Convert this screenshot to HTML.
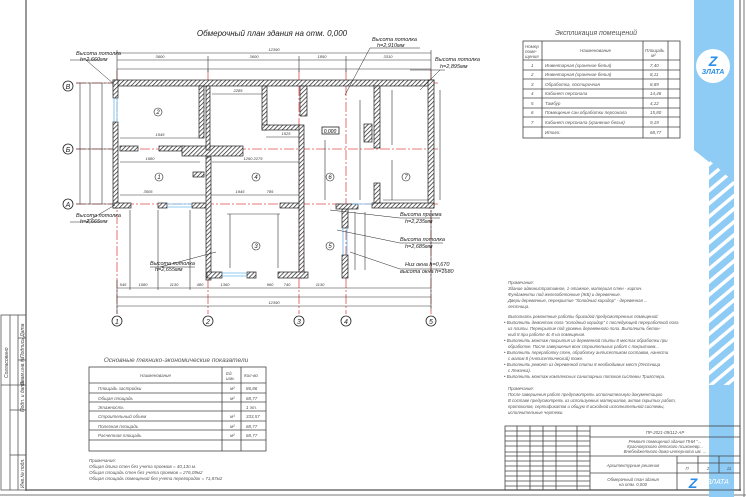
<!DOCTYPE html>
<html><head><meta charset="utf-8"><style>
html,body{margin:0;padding:0;background:#fff}
svg{display:block}
text{font-family:"Liberation Sans",sans-serif;font-style:italic}
</style></head><body>
<svg width="746" height="497" viewBox="0 0 746 497" xmlns="http://www.w3.org/2000/svg">
<defs>
<pattern id="h" width="3" height="3" patternUnits="userSpaceOnUse" patternTransform="rotate(45)">
<rect width="3" height="3" fill="#fff"/><line x1="0" y1="0" x2="0" y2="3" stroke="#222" stroke-width="1.4"/></pattern>
<pattern id="bs" width="10" height="10" patternUnits="userSpaceOnUse" patternTransform="rotate(-40)">
<rect width="10" height="10" fill="#8ecbf5"/><rect width="10" height="3.5" fill="#fff"/></pattern>
</defs>
<rect width="746" height="497" fill="#fff"/>
<!-- frame -->
<line x1="26" y1="0" x2="26" y2="491" stroke="#555" stroke-width="1.2"/>
<line x1="26" y1="490" x2="741" y2="490" stroke="#555" stroke-width="1.2"/>
<line x1="0" y1="495" x2="746" y2="495" stroke="#777" stroke-width="1"/>
<line x1="740" y1="0" x2="740" y2="491" stroke="#555" stroke-width="1"/>
<line x1="744" y1="0" x2="744" y2="497" stroke="#777" stroke-width="1"/>
<!-- left stamp -->
<g stroke="#555" stroke-width="0.8" fill="none">
<rect x="1" y="315" width="25" height="175"/>
<line x1="10" y1="315" x2="10" y2="490"/><line x1="18" y1="315" x2="18" y2="490"/>
<line x1="18" y1="360" x2="26" y2="360"/><line x1="1" y1="385" x2="26" y2="385"/>
<line x1="10" y1="410" x2="26" y2="410"/><line x1="10" y1="455" x2="26" y2="455"/>
<line x1="18" y1="338" x2="26" y2="338"/>
</g>
<g font-size="5" fill="#444">
<text transform="translate(8,378) rotate(-90)">Согласовано</text>
<text transform="translate(24,385) rotate(-90)">Взам.инв.№</text>
<text transform="translate(24,412) rotate(-90)">Подп. и дата</text>
<text transform="translate(24,488) rotate(-90)">Инв.№ подл.</text>
<text transform="translate(24,358) rotate(-90)">Подпись Дата</text>
</g>

<!-- blue band -->
<polygon points="694,0 734,0 734,182 694,150" fill="#8ecbf5"/>
<polygon points="709,160 734,182 734,385 709,385" fill="url(#bs)"/>
<rect x="709" y="385" width="25" height="112" fill="#8ecbf5"/>
<circle cx="713" cy="66" r="17" fill="#fff"/>
<text x="713" y="66" font-size="14" font-weight="bold" fill="#2a8ee8" text-anchor="middle" font-style="normal">Z</text>
<text x="713" y="74" font-size="7" font-weight="bold" fill="#2a8ee8" text-anchor="middle" font-style="normal">ЗЛАТА</text>

<!-- title -->
<text x="272" y="36" font-size="8" fill="#222" text-anchor="middle">Обмерочный план здания на отм. 0,000</text>

<!-- axes red -->
<g stroke="#e05050" stroke-width="0.8" stroke-dasharray="10,2,2,2">
<line x1="117" y1="70" x2="117" y2="314"/><line x1="208" y1="70" x2="208" y2="314"/>
<line x1="299" y1="70" x2="299" y2="314"/><line x1="346" y1="70" x2="346" y2="314"/>
<line x1="431" y1="70" x2="431" y2="314"/>
<line x1="76" y1="83" x2="440" y2="83"/><line x1="76" y1="149" x2="440" y2="149"/><line x1="76" y1="204" x2="440" y2="204"/>
</g>
<!-- axis bubbles -->
<g fill="#fff" stroke="#222" stroke-width="0.8">
<circle cx="117" cy="321" r="5"/><circle cx="208" cy="321" r="5"/><circle cx="299" cy="321" r="5"/><circle cx="346" cy="321" r="5"/><circle cx="431" cy="321" r="5"/>
<circle cx="68" cy="86" r="5"/><circle cx="68" cy="149" r="5"/><circle cx="68" cy="204" r="5"/>
</g>
<g font-size="7" fill="#222" text-anchor="middle">
<text x="117" y="324">1</text><text x="208" y="324">2</text><text x="299" y="324">3</text><text x="346" y="324">4</text><text x="431" y="324">5</text>
<text x="68" y="89">В</text><text x="68" y="152">Б</text><text x="68" y="207">А</text>
</g>
<!-- dimension lines -->
<g stroke="#333" stroke-width="0.6">
<line x1="117" y1="53" x2="431" y2="53"/><line x1="117" y1="60" x2="431" y2="60"/><line x1="117" y1="69" x2="431" y2="69"/>
<line x1="117" y1="288" x2="431" y2="288"/><line x1="117" y1="297" x2="431" y2="297"/><line x1="117" y1="306" x2="431" y2="306"/>
<line x1="80" y1="83" x2="80" y2="204"/><line x1="90" y1="83" x2="90" y2="204"/><line x1="102" y1="83" x2="102" y2="204"/>
<line x1="117" y1="50" x2="117" y2="83"/><line x1="431" y1="50" x2="431" y2="83"/>
<line x1="208" y1="56" x2="208" y2="72"/><line x1="299" y1="56" x2="299" y2="72"/><line x1="346" y1="56" x2="346" y2="72"/>
<line x1="117" y1="280" x2="117" y2="314"/><line x1="431" y1="210" x2="431" y2="310"/>
<line x1="130" y1="210" x2="130" y2="290"/><line x1="158" y1="210" x2="158" y2="290"/><line x1="190" y1="210" x2="190" y2="290"/>
<line x1="76" y1="83" x2="113" y2="83"/><line x1="76" y1="149" x2="113" y2="149"/><line x1="76" y1="204" x2="113" y2="204"/>
<line x1="120" y1="138" x2="200" y2="138"/><line x1="120" y1="162" x2="200" y2="162"/><line x1="120" y1="195" x2="300" y2="195"/>
<line x1="212" y1="162" x2="300" y2="162"/><line x1="266" y1="137" x2="300" y2="137"/><line x1="212" y1="94" x2="262" y2="94"/>
<line x1="302" y1="205" x2="302" y2="277"/><line x1="325" y1="140" x2="325" y2="200"/><line x1="360" y1="100" x2="360" y2="200"/>
<line x1="392" y1="90" x2="392" y2="145"/><line x1="392" y1="160" x2="392" y2="200"/><line x1="383" y1="200" x2="428" y2="200"/>
<line x1="227" y1="214" x2="280" y2="214"/><line x1="230" y1="214" x2="230" y2="268"/><line x1="278" y1="214" x2="278" y2="268"/>
<line x1="355" y1="212" x2="355" y2="270"/><line x1="365" y1="212" x2="365" y2="270"/><line x1="440" y1="90" x2="440" y2="200"/>
</g>
<g font-size="4" fill="#333" text-anchor="middle" font-style="normal">
<text x="274" y="51">12390</text><text x="160" y="58">3600</text><text x="254" y="58">3600</text><text x="322" y="58">1850</text><text x="388" y="58">3310</text>
<text x="274" y="304">12390</text><text x="123" y="286">545</text><text x="143" y="286">1080</text><text x="174" y="286">1130</text><text x="200" y="286">480</text><text x="225" y="286">1360</text><text x="270" y="286">960</text><text x="287" y="286">740</text><text x="320" y="286">1130</text>
<text x="160" y="136">1545</text><text x="148" y="193">3505</text><text x="240" y="193">1945</text><text x="258" y="160">2275</text><text x="286" y="135">1525</text><text x="238" y="92">2285</text>
<text x="270" y="193">785</text><text x="248" y="160">1260</text><text x="150" y="160">1680</text>
</g>
<!-- walls -->
<g fill="url(#h)" stroke="#222" stroke-width="0.7">
<rect x="113" y="80" width="321" height="6"/>
<rect x="113" y="80" width="5" height="18"/><rect x="113" y="122" width="5" height="86"/>
<rect x="428" y="80" width="6" height="128"/>
<rect x="113" y="203" width="18" height="5"/><rect x="158" y="203" width="9" height="5"/><rect x="192" y="203" width="16" height="5"/>
<rect x="280" y="203" width="20" height="5"/><rect x="372" y="203" width="62" height="5"/>
<rect x="120" y="146" width="18" height="5"/><rect x="159" y="146" width="25" height="5"/><rect x="182" y="146" width="61" height="10"/>
<rect x="199" y="86" width="5" height="52"/><rect x="206" y="86" width="4" height="64"/><rect x="206" y="157" width="5" height="123"/>
<rect x="262" y="86" width="5" height="44"/><rect x="262" y="125" width="38" height="5"/>
<rect x="300" y="86" width="7" height="30"/><rect x="299" y="125" width="5" height="153"/>
<rect x="374" y="86" width="6" height="62"/><rect x="374" y="183" width="6" height="20"/>
<rect x="364" y="124" width="8" height="18"/>
<rect x="207" y="272" width="15" height="6"/><rect x="247" y="272" width="9" height="6"/><rect x="278" y="272" width="30" height="6"/>
<rect x="342" y="208" width="6" height="20"/><rect x="342" y="255" width="6" height="23"/>
<rect x="336" y="204" width="22" height="5"/>
<rect x="193" y="172" width="11" height="5"/>
</g>
<!-- windows -->
<g stroke="#6ab8ee" stroke-width="0.8" fill="none">
<line x1="114" y1="98" x2="114" y2="122"/><line x1="117" y1="98" x2="117" y2="122"/>
<line x1="167" y1="204" x2="192" y2="204"/><line x1="167" y1="207" x2="192" y2="207"/>
<line x1="222" y1="273" x2="247" y2="273"/><line x1="222" y1="276" x2="247" y2="276"/>
<line x1="343" y1="228" x2="343" y2="255"/><line x1="347" y1="228" x2="347" y2="255"/>
<line x1="352" y1="204" x2="372" y2="204"/>
</g>
<!-- room numbers -->
<g fill="none" stroke="#222" stroke-width="0.6">
<circle cx="158" cy="112" r="4"/><circle cx="159" cy="177" r="4"/><circle cx="256" cy="177" r="4"/><circle cx="256" cy="246" r="4"/>
<circle cx="330" cy="177" r="4"/><circle cx="330" cy="246" r="4"/><circle cx="406" cy="177" r="4"/>
</g>
<g font-size="6" fill="#222" text-anchor="middle">
<text x="158" y="114">2</text><text x="159" y="179">1</text><text x="256" y="179">4</text><text x="256" y="248">3</text><text x="330" y="179">6</text><text x="330" y="248">5</text><text x="406" y="179">7</text>
</g>
<rect x="322" y="127" width="17" height="7" fill="#fff" stroke="#222" stroke-width="0.8"/>
<text x="330" y="133" font-size="5" text-anchor="middle" font-style="normal">0,000</text>
<!-- leaders -->
<g stroke="#222" stroke-width="0.5" fill="none">
<line x1="370" y1="48" x2="345" y2="95"/><line x1="370" y1="48" x2="420" y2="48"/>
<line x1="440" y1="70" x2="420" y2="90"/><line x1="410" y1="70" x2="445" y2="70"/>
<line x1="86" y1="60" x2="115" y2="85"/><line x1="70" y1="60" x2="100" y2="60"/>
<line x1="86" y1="222" x2="115" y2="205"/><line x1="70" y1="222" x2="100" y2="222"/>
<line x1="330" y1="210" x2="400" y2="218"/><line x1="400" y1="218" x2="440" y2="218"/>
<line x1="337" y1="230" x2="400" y2="243"/><line x1="400" y1="243" x2="443" y2="243"/>
<line x1="350" y1="252" x2="400" y2="269"/><line x1="400" y1="269" x2="446" y2="269"/>
<line x1="160" y1="267" x2="216" y2="252"/><line x1="150" y1="267" x2="195" y2="267"/>
</g>
<g font-size="5.5" fill="#222">
<text x="372" y="41">Высота потолка</text><text x="377" y="47">h=2,910мм</text>
<text x="435" y="61">Высота потолка</text><text x="440" y="68">h=2,895мм</text>
<text x="76" y="55">Высота потолка</text><text x="80" y="61">h=2,660мм</text>
<text x="76" y="217">Высота потолка</text><text x="80" y="223">h=2,665мм</text>
<text x="400" y="216">Высота проема</text><text x="405" y="223">h=2,235мм</text>
<text x="400" y="241">Высота потолка</text><text x="405" y="248">h=2,685мм</text>
<text x="405" y="266">Низ окна h=0,670</text><text x="400" y="273">высота окна h=1680</text>
<text x="150" y="265">Высота потолка</text><text x="155" y="271">h=2,655мм</text>
</g>

<!-- explication table -->
<text x="596" y="35" font-size="7" fill="#555" text-anchor="middle">Экспликация помещений</text>
<g stroke="#444" stroke-width="0.8" fill="none">
<rect x="523" y="41" width="157" height="97"/>
<line x1="542" y1="41" x2="542" y2="138"/><line x1="643" y1="41" x2="643" y2="138"/><line x1="668" y1="41" x2="668" y2="138"/>
<line x1="523" y1="60" x2="680" y2="60"/><line x1="523" y1="70" x2="680" y2="70"/><line x1="523" y1="79" x2="680" y2="79"/>
<line x1="523" y1="89" x2="680" y2="89"/><line x1="523" y1="98" x2="680" y2="98"/><line x1="523" y1="108" x2="680" y2="108"/>
<line x1="523" y1="117" x2="680" y2="117"/><line x1="523" y1="127" x2="680" y2="127"/>
</g>
<g font-size="4.5" fill="#555">
<text x="525" y="48">Номер</text><text x="525" y="53">поме-</text><text x="525" y="58">щения</text>
<text x="580" y="52">Наименование</text><text x="645" y="52">Площадь</text><text x="651" y="57">м²</text>
<text x="531" y="67">1</text><text x="545" y="67">Инвентарная (хранение белья)</text><text x="650" y="67">7,40</text>
<text x="531" y="76">2</text><text x="545" y="76">Инвентарная (хранение белья)</text><text x="650" y="76">8,11</text>
<text x="531" y="86">3</text><text x="545" y="86">Обработка, постирочная</text><text x="650" y="86">8,89</text>
<text x="531" y="95">4</text><text x="545" y="95">Кабинет персонала</text><text x="650" y="95">14,46</text>
<text x="531" y="105">5</text><text x="545" y="105">Тамбур</text><text x="650" y="105">4,22</text>
<text x="531" y="114">6</text><text x="545" y="114">Помещение сан.обработки персонала</text><text x="650" y="114">15,80</text>
<text x="531" y="124">7</text><text x="545" y="124">Кабинет персонала (хранение белья)</text><text x="650" y="124">9,19</text>
<text x="545" y="134">Итого:</text><text x="650" y="134">68,77</text>
</g>

<!-- TEP table -->
<text x="176" y="362" font-size="6.5" fill="#555" text-anchor="middle">Основные технико-экономические показатели</text>
<g stroke="#444" stroke-width="0.8" fill="none">
<rect x="89" y="367" width="177" height="84"/>
<line x1="222" y1="367" x2="222" y2="451"/><line x1="241" y1="367" x2="241" y2="451"/>
<line x1="89" y1="383" x2="266" y2="383"/><line x1="89" y1="393" x2="266" y2="393"/><line x1="89" y1="402" x2="266" y2="402"/>
<line x1="89" y1="411" x2="266" y2="411"/><line x1="89" y1="421" x2="266" y2="421"/><line x1="89" y1="430" x2="266" y2="430"/><line x1="89" y1="440" x2="266" y2="440"/>
</g>
<g font-size="4.5" fill="#555">
<text x="140" y="377">Наименование</text><text x="226" y="375">Ед.</text><text x="226" y="380">изм.</text><text x="244" y="377">Кол-во</text>
<text x="98" y="390">Площадь застройки</text><text x="230" y="390">м²</text><text x="246" y="390">86,86</text>
<text x="98" y="400">Общая площадь</text><text x="230" y="400">м²</text><text x="246" y="400">68,77</text>
<text x="98" y="409">Этажность</text><text x="246" y="409">1 эт.</text>
<text x="98" y="418">Строительный объем</text><text x="230" y="418">м³</text><text x="246" y="418">333,57</text>
<text x="98" y="428">Полезная площадь</text><text x="230" y="428">м²</text><text x="246" y="428">68,77</text>
<text x="98" y="437">Расчетная площадь</text><text x="230" y="437">м²</text><text x="246" y="437">68,77</text>
<text x="89" y="462">Примечание:</text>
<text x="89" y="468">Общая длина стен без учета проемов = 40,13п.м.</text>
<text x="89" y="474">Общая площадь стен без учета проемов = 276,09м2</text>
<text x="89" y="480">Общая площадь помещений без учета перегородок = 71,87м2</text>
</g>

<!-- notes -->
<g font-size="4.3" fill="#555">
<text x="508" y="284">Примечание:</text>
<text x="508" y="290">Здание административное, 1-этажное, материал стен - кирпич.</text>
<text x="508" y="296">Фундаменты под железобетонные (ЖБ) и деревянные.</text>
<text x="508" y="302">Двери деревянные, перекрытие "Холодный коридор" - деревянная ...</text>
<text x="508" y="308">лестница.</text>
<text x="508" y="318">Выполнить ремонтные работы бригадой предусмотренных помещений:</text>
<text x="504" y="324">• Выполнить демонтаж пола "холодный коридор" с последующей переработкой пола</text>
<text x="508" y="330">из плиты. Перекрытие под уровень деревянного пола. Выполнить бетон-</text>
<text x="508" y="336">ный 8 при работе 4с 8 на помещения.</text>
<text x="504" y="342">• Выполнить монтаж покрытия из деревянной плиты 8 местах обработки при</text>
<text x="508" y="348">обработке. После завершения всех строительных работ с покрытием...</text>
<text x="504" y="354">• Выполнить переработку стен, обработку антисептиком составом, нанести</text>
<text x="508" y="360">с малом 8 (Антисептический) тоже.</text>
<text x="504" y="366">• Выполнить ремонт из деревянной плиты 8 необходимых мест (Лестница</text>
<text x="508" y="372">с Лежачка).</text>
<text x="504" y="378">• Выполнить монтаж комплексных санитарных потоков системы Тригстера.</text>
<text x="508" y="390">Примечание:</text>
<text x="508" y="396">После завершения работ предусмотреть исполнительную документацию</text>
<text x="508" y="402">В составе предусмотреть из используемых материалов, актов скрытых работ,</text>
<text x="508" y="408">протоколов, сертификатов и общую 8 исходной исполнительной системы,</text>
<text x="508" y="414">исполнительные чертежи.</text>
</g>

<!-- title block -->
<g stroke="#444" stroke-width="0.8" fill="none">
<rect x="505" y="426" width="235" height="64"/>
<line x1="590" y1="426" x2="590" y2="490"/>
<line x1="590" y1="437" x2="740" y2="437"/><line x1="590" y1="456" x2="740" y2="456"/>
<line x1="505" y1="452" x2="590" y2="452"/><line x1="505" y1="456" x2="590" y2="456"/>
<line x1="590" y1="473" x2="740" y2="473"/><line x1="677" y1="456" x2="677" y2="490"/>
<line x1="677" y1="463" x2="740" y2="463"/><line x1="698" y1="456" x2="698" y2="473"/><line x1="719" y1="456" x2="719" y2="473"/>
<line x1="517" y1="426" x2="517" y2="490"/><line x1="530" y1="426" x2="530" y2="490"/><line x1="543" y1="426" x2="543" y2="490"/>
<line x1="556" y1="426" x2="556" y2="490"/><line x1="577" y1="426" x2="577" y2="490"/>
<line x1="505" y1="431" x2="590" y2="431"/><line x1="505" y1="436" x2="590" y2="436"/><line x1="505" y1="441" x2="590" y2="441"/><line x1="505" y1="446" x2="590" y2="446"/>
<line x1="505" y1="461" x2="590" y2="461"/><line x1="505" y1="466" x2="590" y2="466"/><line x1="505" y1="471" x2="590" y2="471"/>
<line x1="505" y1="476" x2="590" y2="476"/><line x1="505" y1="481" x2="590" y2="481"/><line x1="505" y1="486" x2="590" y2="486"/>
</g>
<g font-size="4.3" fill="#555" text-anchor="middle">
<text x="665" y="434">ПР-2021-09/112-АР</text>
<text x="665" y="443">Ремонт помещений здания ПНИ "...</text>
<text x="665" y="448">Красноярского детского психоневр...</text>
<text x="665" y="453">Внебюджетного дома-интерната им. ...</text>
<text x="633" y="467">Архитектурные решения</text>
<text x="633" y="481">Обмерочный план здания</text><text x="633" y="486">на отм. 0,000</text>
<text x="687" y="470">П</text><text x="708" y="470">2</text><text x="729" y="470">11</text>
</g>
<text x="693" y="488" font-size="14" font-weight="bold" fill="#2a8ee8" text-anchor="middle" font-style="normal">Z</text>
<text x="718" y="484" font-size="7" fill="#fff" text-anchor="middle" font-style="normal">ЗЛАТА</text>
</svg>
</body></html>
